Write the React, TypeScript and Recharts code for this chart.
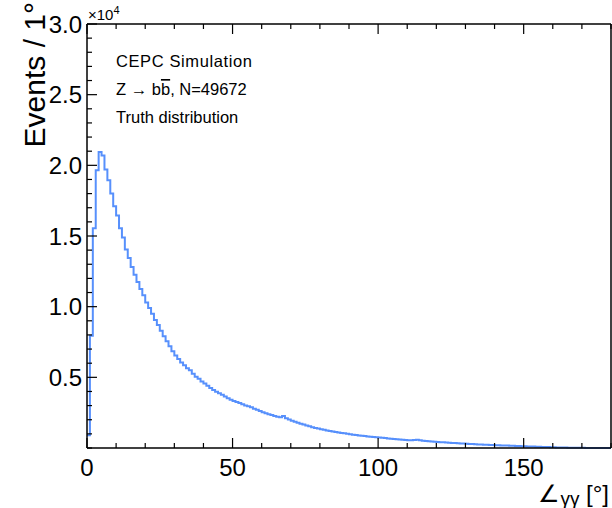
import React from 'react'
import { LineChart, Line, XAxis, YAxis } from 'recharts'

// events per 1° bin, bins 0..179
const counts = [
  900, 7950, 15550, 19650, 20950, 20700, 19700, 18950, 18000, 17100,
  16450, 15550, 14900, 14050, 13450, 12800, 12250, 11750, 11250, 10800,
  10300, 9900, 9500, 9050, 8700, 8300, 7900, 7550, 7200, 6850,
  6550, 6300, 6050, 5850, 5650, 5500, 5250, 5050, 4900, 4700,
  4560, 4400, 4250, 4100, 3980, 3870, 3760, 3640, 3520, 3420,
  3330, 3250, 3180, 3090, 3000, 2950, 2880, 2780, 2700, 2620,
  2530, 2450, 2390, 2330, 2260, 2210, 2180, 2270, 2100, 2010,
  1930, 1860, 1790, 1720, 1660, 1600, 1540, 1470, 1420, 1380,
  1330, 1290, 1240, 1210, 1170, 1130, 1100, 1060, 1040, 1000,
  970, 940, 920, 890, 870, 850, 820, 800, 780, 760,
  745, 720, 700, 680, 660, 640, 620, 600, 590, 570,
  555, 545, 560, 580, 540, 520, 500, 480, 465, 450,
  430, 415, 400, 390, 375, 360, 345, 335, 320, 310,
  300, 290, 275, 265, 255, 245, 235, 225, 215, 205,
  200, 190, 185, 175, 170, 165, 155, 145, 140, 130,
  120, 115, 105, 100, 90, 85, 75, 70, 62, 55,
  50, 44, 38, 33, 28, 24, 20, 17, 14, 12,
  10, 8, 7, 6, 5, 4, 3, 3, 2, 1,
]
const binWidth = 1

const xTicks = [0, 10, 20, 30, 40, 50, 60, 70, 80, 90, 100, 110, 120, 130, 140, 150, 160, 170, 180]
const xMajor = [0, 50, 100, 150]
const yTicks = [0, 1000, 2000, 3000, 4000, 5000, 6000, 7000, 8000, 9000, 10000, 11000, 12000, 13000, 14000, 15000,
  16000, 17000, 18000, 19000, 20000, 21000, 22000, 23000, 24000, 25000, 26000, 27000, 28000, 29000, 30000]
const yMajor = [5000, 10000, 15000, 20000, 25000, 30000]

const legendLines = ['CEPC Simulation', 'Z \u2192 b', 'Truth distribution']

// stepAfter needs a closing point at the last edge
const data = [
  ...counts.map((v, i) => ({ x: i * binWidth, v })),
  { x: counts.length * binWidth, v: counts[counts.length - 1] },
]

const FONT = '"Liberation Sans", Arial, Helvetica, sans-serif'

const BottomTick = ({ x, y, payload }: any) => {
  const major = xMajor.includes(payload.value)
  return (
    <g>
      <line x1={x} x2={x} y1={y} y2={y - (major ? 10 : 5)} stroke="#000" strokeWidth={1.2} />
      {major && (
        <text x={x} y={y + 28} textAnchor="middle" fontSize={24} fontFamily={FONT} fill="#000">
          {payload.value}
        </text>
      )}
    </g>
  )
}

const TopTick = ({ x, y, payload }: any) => {
  const major = xMajor.includes(payload.value)
  return <line x1={x} x2={x} y1={y} y2={y + (major ? 10 : 5)} stroke="#000" strokeWidth={1.2} />
}

const LeftTick = ({ x, y, payload }: any) => {
  const major = yMajor.includes(payload.value)
  return (
    <g>
      <line x1={x} x2={x + (major ? 10 : 5)} y1={y} y2={y} stroke="#000" strokeWidth={1.2} />
      {major && (
        <text x={x - 5} y={y + 8.5} textAnchor="end" fontSize={24} fontFamily={FONT} fill="#000">
          {(payload.value / 10000).toFixed(1)}
        </text>
      )}
    </g>
  )
}

const RightTick = ({ x, y, payload }: any) => {
  const major = yMajor.includes(payload.value)
  return <line x1={x} x2={x - (major ? 10 : 5)} y1={y} y2={y} stroke="#000" strokeWidth={1.2} />
}

const axisLine = { stroke: '#000', strokeWidth: 1.5 }

export default function App() {
  return (
    <div style={{ position: 'absolute', left: 0, top: 0, width: 612, height: 508, background: '#fff' }}>
      <LineChart width={612} height={508} data={data} margin={{ top: 23, right: 0, bottom: 59, left: 86 }}>
        <XAxis dataKey="x" type="number" domain={[0, 180]} ticks={xTicks} interval={0} height={1}
          tickSize={0} tickMargin={0} tickLine={false} axisLine={axisLine} tick={<BottomTick />} />
        <XAxis xAxisId="top" orientation="top" type="number" domain={[0, 180]} ticks={xTicks} interval={0} height={1}
          tickSize={0} tickMargin={0} tickLine={false} axisLine={axisLine} tick={<TopTick />} />
        <YAxis type="number" domain={[0, 30000]} ticks={yTicks} interval={0} width={1}
          tickSize={0} tickMargin={0} tickLine={false} axisLine={axisLine} tick={<LeftTick />} />
        <YAxis yAxisId="right" orientation="right" type="number" domain={[0, 30000]} ticks={yTicks} interval={0} width={1}
          tickSize={0} tickMargin={0} tickLine={false} axisLine={axisLine} tick={<RightTick />} />
        <Line type="stepAfter" dataKey="v" stroke="#5790fc" strokeWidth={2} dot={false} isAnimationActive={false} />
      </LineChart>
      <svg width={612} height={508} style={{ position: 'absolute', left: 0, top: 0, pointerEvents: 'none' }}
        fontFamily={FONT}>
        <text transform="translate(45, 2) rotate(-90)" textAnchor="end" fontSize={30} fill="#000">Events / 1°</text>
        <text x={88} y={20} fontSize={15} fill="#000">
          ×10<tspan fontSize={11} dy={-6}>4</tspan>
        </text>
        <text x={116} y={67} fontSize={16.5} fill="#000" letterSpacing={0.6}>{legendLines[0]}</text>
        <text x={116} y={95} fontSize={16.5} fill="#000">
          {legendLines[1]}<tspan style={{ textDecoration: 'overline' }}>b</tspan>, N=49672
        </text>
        <text x={116} y={123} fontSize={16.5} fill="#000">{legendLines[2]}</text>
        <text x={609} y={502} textAnchor="end" fontSize={24} fill="#000">
          ∠<tspan fontSize={19} dy={3}>γγ</tspan><tspan dy={-3} fontSize={24}> [°]</tspan>
        </text>
      </svg>
    </div>
  )
}
